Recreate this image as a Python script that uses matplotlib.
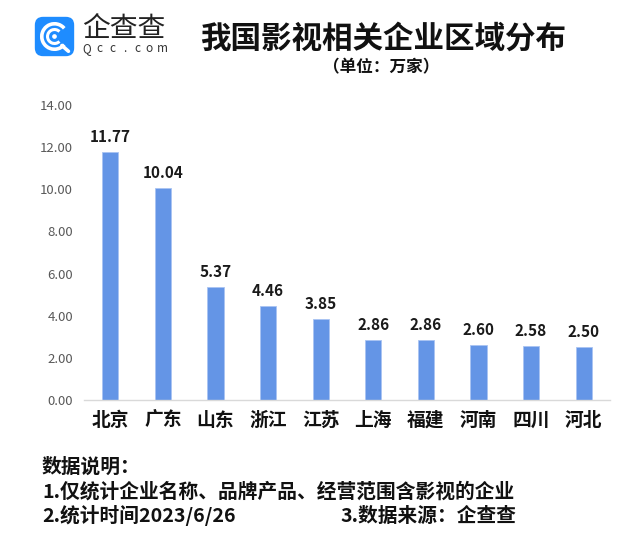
import matplotlib
matplotlib.use('Agg')
import matplotlib.pyplot as plt
from matplotlib.patches import FancyBboxPatch, Arc, Circle
import numpy as np

plt.rcParams['font.family'] = ['Noto Sans CJK SC', 'DejaVu Sans']

regions = ['北京', '广东', '山东', '浙江', '江苏', '上海', '福建', '河南', '四川', '河北']
counts = [11.77, 10.04, 5.37, 4.46, 3.85, 2.86, 2.86, 2.60, 2.58, 2.50]
yticks = [0, 2, 4, 6, 8, 10, 12, 14]

title = '我国影视相关企业区域分布'
subtitle = '（单位：万家）'
notes = ['数据说明：',
         '1.仅统计企业名称、品牌产品、经营范围含影视的企业',
         '2.统计时间2023/6/26']
source = '3.数据来源：企查查'

W, H = 639, 542
fig = plt.figure(figsize=(W / 100, H / 100), dpi=100)
fig.patch.set_facecolor('white')

# main bar axes
ax = fig.add_axes([84 / W, 1 - 400 / H, (610 - 84) / W, (400 - 105) / H])
x = np.arange(len(regions))
ax.bar(x, counts, width=0.31, color='#6495e6', edgecolor='#a9c4f2', linewidth=0.6)
for xi, v in zip(x, counts):
    ax.annotate('%.2f' % v, (xi, v), xytext=(0, 5), textcoords='offset points',
                ha='center', va='bottom', fontsize=11, fontweight='bold', color='#1a1a1a')
ax.set_xlim(-0.5, len(regions) - 0.5)
ax.set_ylim(0, 14)
ax.set_yticks(yticks)
ax.set_yticklabels(['%.2f' % t for t in yticks], fontsize=9.5, color='#595959')
ax.set_xticks(x)
ax.set_xticklabels(regions, fontsize=13.5, fontweight='bold', color='#111111')
ax.tick_params(axis='both', length=0)
ax.tick_params(axis='y', pad=8)
ax.tick_params(axis='x', pad=8)
for s in ['top', 'right', 'left']:
    ax.spines[s].set_visible(False)
ax.spines['bottom'].set_color('#d9d9d9')
ax.spines['bottom'].set_linewidth(1)

# logo
lax = fig.add_axes([34 / W, 1 - 57 / H, 41 / W, 41 / H])
lax.set_xlim(0, 1)
lax.set_ylim(0, 1)
lax.axis('off')
lax.add_patch(FancyBboxPatch((0.02, 0.02), 0.96, 0.96, boxstyle='round,pad=0,rounding_size=0.2',
                             facecolor='#1e8cff', edgecolor='none'))
lax.add_patch(Arc((0.5, 0.5), 0.62, 0.62, theta1=40, theta2=320, color='white', lw=2.6))
lax.add_patch(Arc((0.5, 0.5), 0.34, 0.34, theta1=45, theta2=315, color='white', lw=2.2))
lax.plot([0.68, 0.84], [0.28, 0.14], color='white', lw=2.6, solid_capstyle='round')
lax.add_patch(Circle((0.5, 0.5), 0.04, color='white'))

fig.text(82 / W, 1 - 29 / H, '企查查', fontsize=20, fontweight='light', color='#222222', va='center', ha='left')
for i, ch in enumerate('Qcc.com'):
    fig.text((87 + i * 12.5) / W, 1 - 49 / H, ch, fontsize=8.5, color='#333333', va='center', ha='center')

# titles
fig.text(383 / W, 1 - 39 / H, title, fontsize=22, fontweight='bold', ha='center', va='center', color='#111111')
fig.text(381 / W, 1 - 67 / H, subtitle, fontsize=12, fontweight='bold', ha='center', va='center', color='#111111')

# notes
ys = [467, 492, 516]
for t, yy in zip(notes, ys):
    fig.text(42 / W, 1 - yy / H, t, fontsize=14.2, fontweight='bold', ha='left', va='center', color='#111111')
fig.text(340 / W, 1 - 516 / H, source, fontsize=14.2, fontweight='bold', ha='left', va='center', color='#111111')

fig.savefig('out.png', dpi=100, facecolor='white')
